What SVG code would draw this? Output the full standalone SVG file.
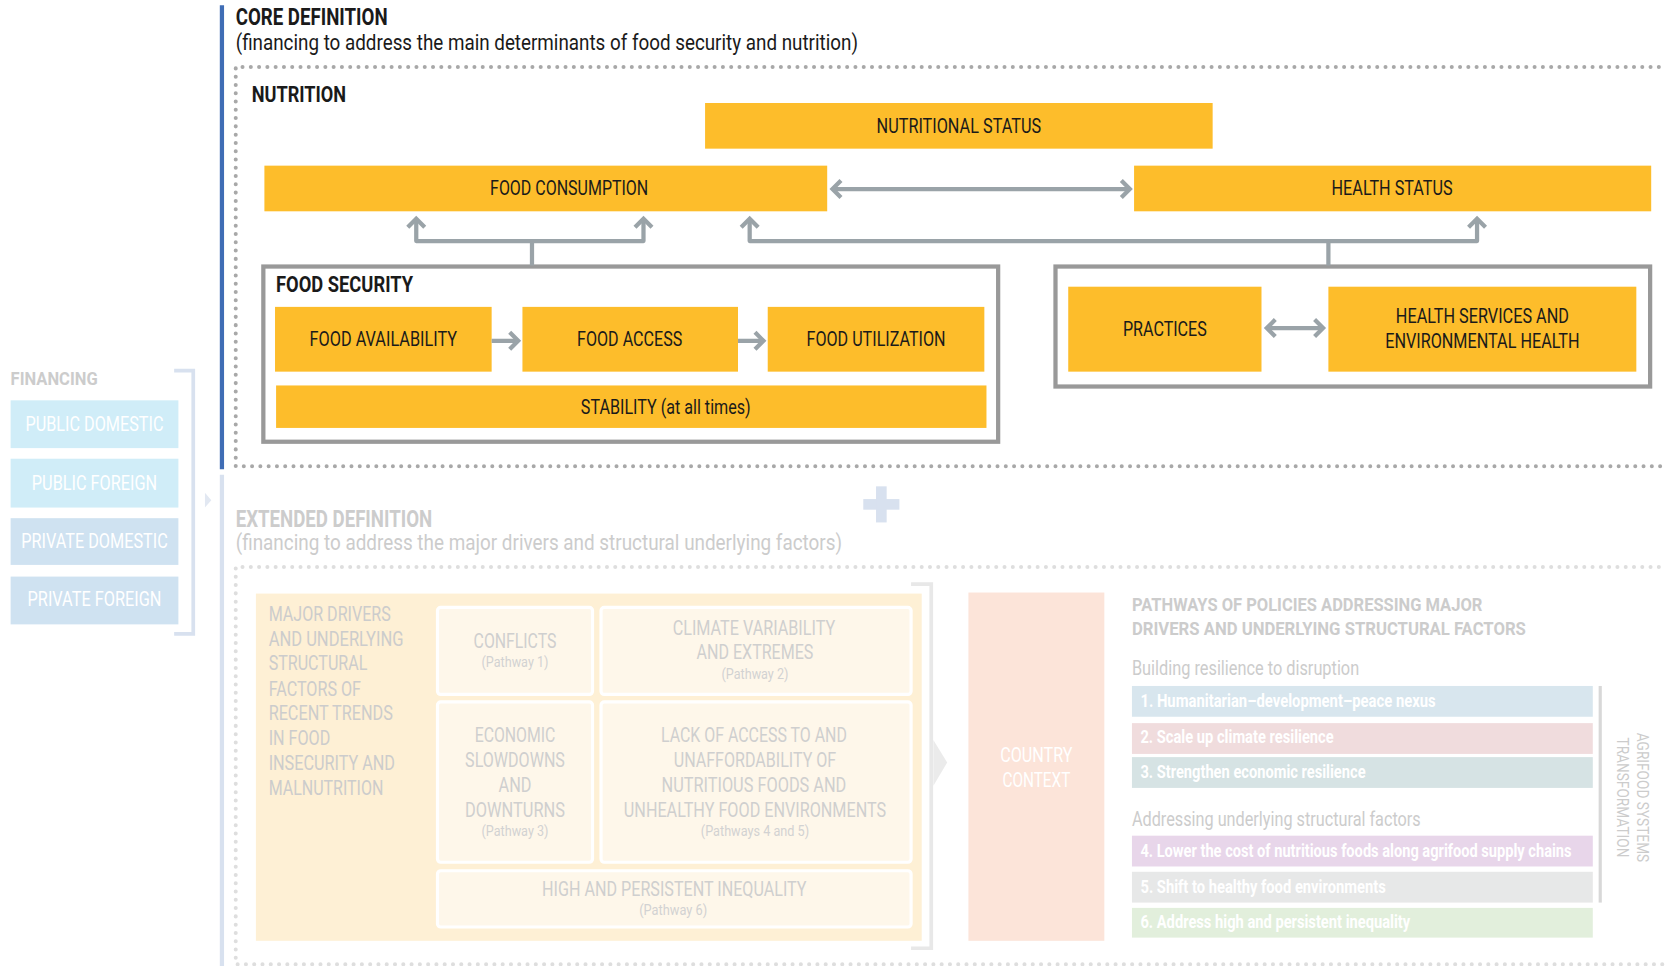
<svg xmlns="http://www.w3.org/2000/svg" width="1665" height="966" viewBox="0 0 1665 966">
<defs>
<style>
text{font-family:Roboto,"DejaVu Sans Condensed","Liberation Sans",sans-serif}
.b{font-weight:bold}
.dk{fill:#1a1a1a}
.y{fill:#FDBD2B}
.yt{font-size:19px;fill:#1a1a1a;text-anchor:middle}
.fin{fill:#fff;font-size:18.5px;text-anchor:middle}
.fa{fill:#CCCCCC}
.sub{fill:#FEF7EA;stroke:#fff;stroke-width:3}
.st{fill:#CFCFCF;font-size:18.5px;text-anchor:middle}
.pw{fill:#D2D2D2;font-size:13.5px;text-anchor:middle}
.bar{fill:#fff;font-size:16.5px;font-weight:bold}
.con{fill:none;stroke:#9AA3A8;stroke-width:4;stroke-linejoin:round}
.box{fill:none;stroke:#999;stroke-width:4}
</style>
<marker id="chev" viewBox="-12 -12 24 24" refX="0" refY="0" markerWidth="24" markerHeight="24" markerUnits="userSpaceOnUse" orient="auto-start-reverse">
<path d="M-8,-8 L0,0 L-8,8" fill="none" stroke="#9AA3A8" stroke-width="4"/>
</marker>
</defs>
<rect width="1665" height="966" fill="#fff"/>
<g transform="scale(1.061862)">

<line x1="209" y1="5" x2="209" y2="442" stroke="#3F6DB5" stroke-width="4"/>
<line x1="209" y1="447" x2="209" y2="910" stroke="#D8E1EF" stroke-width="4"/>

<g id="core-title">
<text x="222" y="24" class="b dk" font-size="22" textLength="143" lengthAdjust="spacingAndGlyphs">CORE DEFINITION</text>
<text x="222" y="47" class="dk" font-size="20" textLength="586" lengthAdjust="spacingAndGlyphs">(financing to address the main determinants of food security and nutrition)</text>
</g>
<path d="M1570,63 H222 V439 H1570" fill="none" stroke="#A8A8A8" stroke-width="3.8" stroke-dasharray="0 7.8" stroke-linecap="round"/>
<text x="237" y="96" class="b dk" font-size="20.5" textLength="89" lengthAdjust="spacingAndGlyphs">NUTRITION</text>

<g id="nutritional-status"><rect x="664" y="97" width="478" height="43" class="y"/><text x="903" y="125" class="yt" textLength="155" lengthAdjust="spacingAndGlyphs">NUTRITIONAL STATUS</text></g>
<g id="food-consumption"><rect x="249" y="156" width="530" height="43" class="y"/><text x="536" y="184" class="yt" textLength="149" lengthAdjust="spacingAndGlyphs">FOOD CONSUMPTION</text></g>
<g id="health-status"><rect x="1068" y="156" width="487" height="43" class="y"/><text x="1311" y="184" class="yt" textLength="114" lengthAdjust="spacingAndGlyphs">HEALTH STATUS</text></g>

<g id="food-security">
<rect x="248" y="251" width="692" height="165" class="box"/>
<text x="260" y="275" class="b dk" font-size="20" textLength="129" lengthAdjust="spacingAndGlyphs">FOOD SECURITY</text>
</g>
<g id="food-availability"><rect x="259" y="289" width="204" height="61" class="y"/><text x="361" y="326" class="yt" textLength="139" lengthAdjust="spacingAndGlyphs">FOOD AVAILABILITY</text></g>
<g id="food-access"><rect x="492" y="289" width="203" height="61" class="y"/><text x="593" y="326" class="yt" textLength="99" lengthAdjust="spacingAndGlyphs">FOOD ACCESS</text></g>
<g id="food-utilization"><rect x="723" y="289" width="204" height="61" class="y"/><text x="825" y="326" class="yt" textLength="131" lengthAdjust="spacingAndGlyphs">FOOD UTILIZATION</text></g>
<g id="stability"><rect x="260" y="363" width="669" height="40" class="y"/><text x="627" y="390" class="yt" textLength="160" lengthAdjust="spacingAndGlyphs">STABILITY (at all times)</text></g>

<g id="health-group"><rect x="994" y="251" width="560" height="113" class="box"/></g>
<g id="practices"><rect x="1006" y="270" width="182" height="80" class="y"/><text x="1097" y="316" class="yt" textLength="79" lengthAdjust="spacingAndGlyphs">PRACTICES</text></g>
<g id="health-services"><rect x="1251" y="270" width="290" height="80" class="y"/><text x="1396" y="304" class="yt" textLength="163" lengthAdjust="spacingAndGlyphs">HEALTH SERVICES AND</text><text x="1396" y="328" class="yt" textLength="183" lengthAdjust="spacingAndGlyphs">ENVIRONMENTAL HEALTH</text></g>

<g id="connectors">
<line x1="784" y1="178" x2="1064" y2="178" class="con" marker-start="url(#chev)" marker-end="url(#chev)"/>
<path d="M392,206 V227 H606 V206" class="con" marker-start="url(#chev)" marker-end="url(#chev)"/>
<path d="M501,250 V227" class="con"/>
<path d="M706,206 V227 H1391 V206" class="con" marker-start="url(#chev)" marker-end="url(#chev)"/>
<path d="M1251,250 V227" class="con"/>
<line x1="463" y1="321" x2="488" y2="321" class="con" stroke-width="6" marker-end="url(#chev)"/>
<line x1="695" y1="321" x2="719" y2="321" class="con" stroke-width="6" marker-end="url(#chev)"/>
<line x1="1193" y1="309" x2="1246" y2="309" class="con" marker-start="url(#chev)" marker-end="url(#chev)"/>
</g>

<g id="financing">
<text x="10" y="363" class="b fa" font-size="17.5" textLength="82" lengthAdjust="spacingAndGlyphs">FINANCING</text>
<path d="M164,349 H182 V597 H164" fill="none" stroke="#D8E1EF" stroke-width="3.5"/>
<path d="M193,464 L199,471 L193,478 Z" fill="#E2E8F2"/>
</g>
<g id="public-domestic"><rect x="10" y="377" width="158" height="45" fill="#D0EDF8"/><text x="89" y="406" class="fin" textLength="130" lengthAdjust="spacingAndGlyphs">PUBLIC DOMESTIC</text></g>
<g id="public-foreign"><rect x="10" y="432" width="158" height="46" fill="#D0EDF8"/><text x="89" y="461" class="fin" textLength="118" lengthAdjust="spacingAndGlyphs">PUBLIC FOREIGN</text></g>
<g id="private-domestic"><rect x="10" y="488" width="158" height="44" fill="#CFE2F1"/><text x="89" y="516" class="fin" textLength="138" lengthAdjust="spacingAndGlyphs">PRIVATE DOMESTIC</text></g>
<g id="private-foreign"><rect x="10" y="543" width="158" height="45" fill="#CFE2F1"/><text x="89" y="571" class="fin" textLength="126" lengthAdjust="spacingAndGlyphs">PRIVATE FOREIGN</text></g>

<g id="plus" fill="#D8E1EF"><rect x="813" y="470" width="34" height="10"/><rect x="825" y="458" width="10" height="34"/></g>

<g id="ext-title">
<text x="222" y="496" class="b fa" font-size="22" textLength="185" lengthAdjust="spacingAndGlyphs">EXTENDED DEFINITION</text>
<text x="222" y="518" class="fa" font-size="20" textLength="571" lengthAdjust="spacingAndGlyphs">(financing to address the major drivers and structural underlying factors)</text>
</g>
<path d="M1570,534 H222 V908 H1570" fill="none" stroke="#DEDEDE" stroke-width="3.8" stroke-dasharray="0 7.8" stroke-linecap="round"/>

<g id="drivers">
<rect x="241" y="559" width="627" height="327" fill="#FEF0D5"/>
<g class="fa" font-size="18.5">
<text x="253" y="585" textLength="115" lengthAdjust="spacingAndGlyphs">MAJOR DRIVERS</text>
<text x="253" y="608" textLength="127" lengthAdjust="spacingAndGlyphs">AND UNDERLYING</text>
<text x="253" y="631" textLength="93" lengthAdjust="spacingAndGlyphs">STRUCTURAL</text>
<text x="253" y="655" textLength="87" lengthAdjust="spacingAndGlyphs">FACTORS OF</text>
<text x="253" y="678" textLength="117" lengthAdjust="spacingAndGlyphs">RECENT TRENDS</text>
<text x="253" y="702" textLength="58" lengthAdjust="spacingAndGlyphs">IN FOOD</text>
<text x="253" y="725" textLength="119" lengthAdjust="spacingAndGlyphs">INSECURITY AND</text>
<text x="253" y="749" textLength="108" lengthAdjust="spacingAndGlyphs">MALNUTRITION</text>
</g>
</g>
<g id="conflicts"><rect x="412" y="572" width="146" height="82" rx="3" class="sub"/><text x="485" y="610" class="st" textLength="78" lengthAdjust="spacingAndGlyphs">CONFLICTS</text><text x="485" y="628" class="pw" textLength="63" lengthAdjust="spacingAndGlyphs">(Pathway 1)</text></g>
<g id="climate"><rect x="566" y="572" width="292" height="82" rx="3" class="sub"/><text x="710" y="598" class="st" textLength="153" lengthAdjust="spacingAndGlyphs">CLIMATE VARIABILITY</text><text x="711" y="621" class="st" textLength="110" lengthAdjust="spacingAndGlyphs">AND EXTREMES</text><text x="711" y="639" class="pw" textLength="63" lengthAdjust="spacingAndGlyphs">(Pathway 2)</text></g>
<g id="economic"><rect x="412" y="661" width="146" height="151" rx="3" class="sub"/><text x="485" y="699" class="st" textLength="76" lengthAdjust="spacingAndGlyphs">ECONOMIC</text><text x="485" y="722" class="st" textLength="94" lengthAdjust="spacingAndGlyphs">SLOWDOWNS</text><text x="485" y="746" class="st" textLength="31" lengthAdjust="spacingAndGlyphs">AND</text><text x="485" y="769" class="st" textLength="94" lengthAdjust="spacingAndGlyphs">DOWNTURNS</text><text x="485" y="787" class="pw" textLength="63" lengthAdjust="spacingAndGlyphs">(Pathway 3)</text></g>
<g id="access"><rect x="566" y="661" width="292" height="151" rx="3" class="sub"/><text x="710" y="699" class="st" textLength="175" lengthAdjust="spacingAndGlyphs">LACK OF ACCESS TO AND</text><text x="711" y="722" class="st" textLength="153" lengthAdjust="spacingAndGlyphs">UNAFFORDABILITY OF</text><text x="710" y="746" class="st" textLength="174" lengthAdjust="spacingAndGlyphs">NUTRITIOUS FOODS AND</text><text x="711" y="769" class="st" textLength="247" lengthAdjust="spacingAndGlyphs">UNHEALTHY FOOD ENVIRONMENTS</text><text x="711" y="787" class="pw" textLength="102" lengthAdjust="spacingAndGlyphs">(Pathways 4 and 5)</text></g>
<g id="inequality"><rect x="412" y="820" width="446" height="53" rx="3" class="sub"/><text x="635" y="844" class="st" textLength="249" lengthAdjust="spacingAndGlyphs">HIGH AND PERSISTENT INEQUALITY</text><text x="634" y="862" class="pw" textLength="64" lengthAdjust="spacingAndGlyphs">(Pathway 6)</text></g>
<g id="drivers-bracket">
<path d="M858,550 H877 V893 H858" fill="none" stroke="#E8E8E8" stroke-width="3.5"/>
<path d="M879,697 L892,718 L879,740 Z" fill="#EBEBEB"/>
</g>

<g id="country-context"><rect x="912" y="558" width="128" height="328" fill="#FCE4D9"/><text x="976" y="718" class="fin" font-size="19.5" textLength="68" lengthAdjust="spacingAndGlyphs">COUNTRY</text><text x="976" y="741" class="fin" font-size="19.5" textLength="64" lengthAdjust="spacingAndGlyphs">CONTEXT</text></g>

<g id="pathways">
<text x="1066" y="575" class="b fa" font-size="18" textLength="330" lengthAdjust="spacingAndGlyphs">PATHWAYS OF POLICIES ADDRESSING MAJOR</text>
<text x="1066" y="598" class="b fa" font-size="18" textLength="371" lengthAdjust="spacingAndGlyphs">DRIVERS AND UNDERLYING STRUCTURAL FACTORS</text>
<text x="1066" y="636" class="fa" font-size="18.5" textLength="214" lengthAdjust="spacingAndGlyphs">Building resilience to disruption</text>
<text x="1066" y="778" class="fa" font-size="18.5" textLength="272" lengthAdjust="spacingAndGlyphs">Addressing underlying structural factors</text>
</g>
<g id="p1"><rect x="1066" y="646" width="434" height="29" fill="#D8E6EE"/><text x="1074" y="666" class="bar" textLength="278" lengthAdjust="spacingAndGlyphs">1. Humanitarian–development–peace nexus</text></g>
<g id="p2"><rect x="1066" y="681" width="434" height="29" fill="#F0DCDD"/><text x="1074" y="700" class="bar" textLength="182" lengthAdjust="spacingAndGlyphs">2. Scale up climate resilience</text></g>
<g id="p3"><rect x="1066" y="713" width="434" height="29" fill="#D6E3E4"/><text x="1074" y="733" class="bar" textLength="212" lengthAdjust="spacingAndGlyphs">3. Strengthen economic resilience</text></g>
<g id="p4"><rect x="1066" y="787" width="434" height="29" fill="#E8D6EA"/><text x="1074" y="807" class="bar" textLength="406" lengthAdjust="spacingAndGlyphs">4. Lower the cost of nutritious foods along agrifood supply chains</text></g>
<g id="p5"><rect x="1066" y="821" width="434" height="29" fill="#E7E8E8"/><text x="1074" y="841" class="bar" textLength="231" lengthAdjust="spacingAndGlyphs">5. Shift to healthy food environments</text></g>
<g id="p6"><rect x="1066" y="855" width="434" height="28" fill="#E2EFDC"/><text x="1074" y="874" class="bar" textLength="254" lengthAdjust="spacingAndGlyphs">6. Address high and persistent inequality</text></g>
<g id="agrifood">
<line x1="1507" y1="646" x2="1507" y2="850" stroke="#D8D8D8" stroke-width="3"/>
<text transform="translate(1542,751) rotate(90)" class="fa" font-size="15" text-anchor="middle" textLength="122" lengthAdjust="spacingAndGlyphs">AGRIFOOD SYSTEMS</text>
<text transform="translate(1523,751) rotate(90)" class="fa" font-size="15" text-anchor="middle" textLength="113" lengthAdjust="spacingAndGlyphs">TRANSFORMATION</text>
</g>
</g>
</svg>
